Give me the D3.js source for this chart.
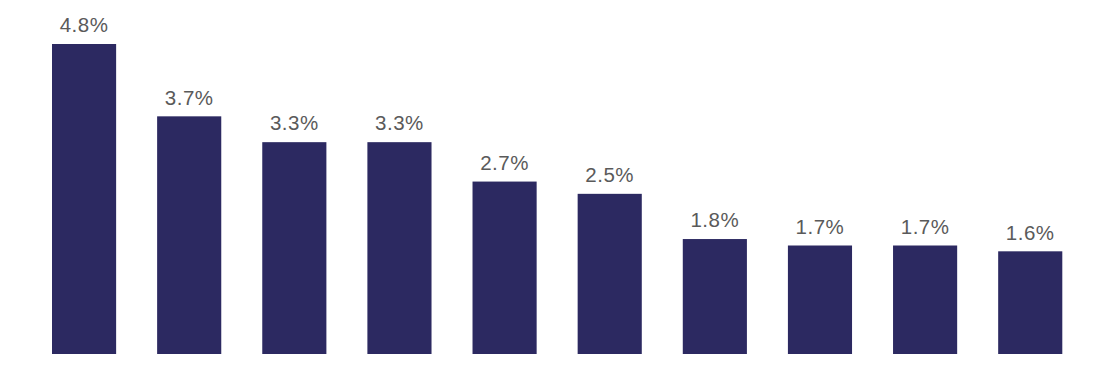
<!DOCTYPE html>
<html>
<head>
<meta charset="utf-8">
<script src="https://cdn.jsdelivr.net/npm/d3@7"></script>
<style>
  body { margin: 0; background: #fff; }
</style>
</head>
<body>
<script>
// values
const categories = ['A', 'B', 'C', 'D', 'E', 'F', 'G', 'H', 'I', 'J'];
const values = [4.8, 3.68, 3.28, 3.28, 2.67, 2.48, 1.78, 1.68, 1.68, 1.59];

const width = 1112;
const height = 384;

const svg = d3.select('body').append('svg').attr('width', width).attr('height', height);

// x: band scale for the bars
const x = d3.scaleBand()
  .domain(categories)
  .range([31.5, 1082.8])
  .paddingInner(0.39)
  .paddingOuter(0.195);

// y: linear from baseline
const y = d3.scaleLinear()
  .domain([0, 4.8])
  .range([354, 44]);

svg.append('g')
  .selectAll('rect')
  .data(values)
  .join('rect')
    .attr('x', (d, i) => x(categories[i]))
    .attr('y', (d) => y(d))
    .attr('width', x.bandwidth())
    .attr('height', (d) => y(0) - y(d))
    .attr('fill', '#2c2961');

// value labels
svg.append('g')
  .selectAll('text')
  .data(values)
  .join('text')
    .attr('x', (d, i) => x(categories[i]) + x.bandwidth() / 2)
    .attr('y', (d) => y(d) - 11.7)
    .attr('text-anchor', 'middle')
    .attr('font-family', 'Liberation Sans, Arial, sans-serif')
    .attr('font-size', 20.5)
    .attr('letter-spacing', 0.5)
    .attr('fill', '#5a5a5a')
    .text((d) => d.toFixed(1) + '%');
</script>
</body>
</html>
